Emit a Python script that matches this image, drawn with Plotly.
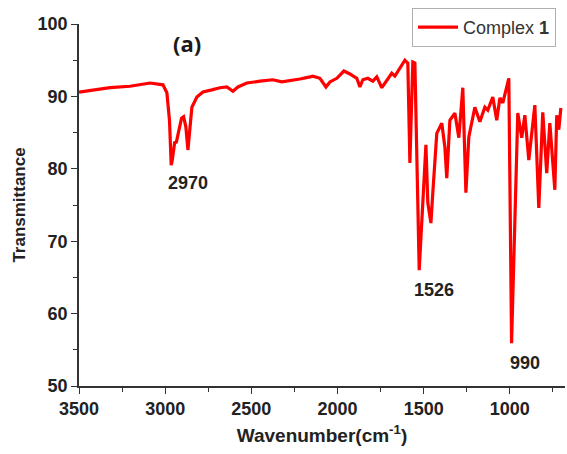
import plotly.graph_objects as go

wavenumber = [3500, 3320, 3204, 3088, 3013, 2990, 2975, 2965, 2960, 2945, 2935, 2905, 2893, 2880, 2868, 2862, 2845,
              2816, 2781, 2729, 2682, 2642, 2607, 2578, 2526, 2450, 2375, 2323, 2294, 2218, 2160, 2143, 2102,
              2067, 2044, 2004, 1963, 1928, 1888, 1870, 1853, 1824, 1795, 1772, 1743, 1714, 1685, 1667, 1638,
              1609, 1592, 1580, 1563, 1551, 1526, 1487, 1476, 1458, 1447, 1424, 1395, 1377, 1366, 1348, 1319,
              1296, 1273, 1255, 1238, 1203, 1174, 1145, 1128, 1099, 1076, 1058, 1041, 1006, 990, 954, 931,
              913, 890, 855, 832, 809, 786, 768, 739, 728, 716, 704]
transmittance = [90.6, 91.2, 91.4, 91.85, 91.6, 90.5, 86.7, 80.5, 81.0, 83.6, 83.7, 87.0, 87.2, 85.8, 82.6, 84.4, 88.5,
                 89.9, 90.6, 90.9, 91.2, 91.3, 90.7, 91.3, 91.85, 92.1, 92.3, 92.0, 92.1, 92.4, 92.7, 92.8, 92.5,
                 91.3, 92.0, 92.5, 93.5, 93.1, 92.5, 91.3, 92.3, 92.5, 92.1, 92.7, 91.2, 92.3, 93.2, 92.8, 93.9,
                 95.0, 94.6, 80.8, 94.75, 94.6, 66.0, 83.3, 75.3, 72.5, 76.7, 84.9, 86.3, 83.0, 78.7, 86.7, 87.7,
                 84.3, 91.2, 76.7, 84.4, 88.5, 86.5, 88.5, 88.1, 89.9, 86.7, 89.8, 89.1, 92.5, 55.9, 87.7, 84.3,
                 87.4, 81.2, 88.8, 74.6, 87.8, 79.4, 86.3, 77.1, 87.4, 85.4, 88.4]

peak_labels = ["2970", "1526", "990"]
peak_label_x = [2868, 1441, 913]
peak_label_y = [78.0, 63.3, 53.2]

x_ticks = [3500, 3000, 2500, 2000, 1500, 1000]
y_ticks = [50, 60, 70, 80, 90, 100]

fig = go.Figure()
fig.add_trace(go.Scatter(x=wavenumber, y=transmittance, mode="lines",
                         line=dict(color="#ff0000", width=3.2), name="Complex <b>1</b>"))

for t, xx, yy in zip(peak_labels, peak_label_x, peak_label_y):
    fig.add_annotation(x=xx, y=yy, text="<b>%s</b>" % t, showarrow=False,
                       xanchor="center", yanchor="middle",
                       font=dict(family="Arial, Liberation Sans", size=18, color="#222222"))

fig.add_annotation(x=(187 - 79) / 486, y=(386 - 43) / 362, xref="paper", yref="paper",
                   xanchor="center", yanchor="middle",
                   text="<b>(a)</b>", showarrow=False,
                   font=dict(family="Open Sans", size=22, color="#1a1a1a"))

axis_font = dict(family="Arial, Liberation Sans", size=18, color="#222222")
fig.update_layout(
    width=567, height=454,
    margin=dict(l=79, r=2, t=24, b=68),
    paper_bgcolor="white", plot_bgcolor="white",
    showlegend=True,
    legend=dict(x=(412 - 79) / 486, y=(386 - 8) / 362, xanchor="left", yanchor="top",
                bordercolor="#b0b0b0", borderwidth=1, bgcolor="white",
                font=dict(family="Arial, Liberation Sans", size=18, color="#333333"),
                itemwidth=40, tracegroupgap=0),
    xaxis=dict(range=[3500, 680], tickvals=x_ticks, ticktext=["<b>%d</b>" % v for v in x_ticks],
               showgrid=False, zeroline=False, showline=True, linecolor="#333333", linewidth=1.5,
               ticks="outside", ticklen=6, tickcolor="#333333", tickfont=axis_font,
               minor=dict(dtick=250, tick0=0, ticks="outside", ticklen=4, tickcolor="#333333"),
               title=dict(text="<b>Wavenumber(cm<sup>-1</sup>)</b>",
                          font=dict(family="Arial, Liberation Sans", size=19, color="#222222"), standoff=10)),
    yaxis=dict(range=[50, 100], tickvals=y_ticks, ticktext=["<b>%d</b>" % v for v in y_ticks],
               showgrid=False, zeroline=False, showline=True, linecolor="#333333", linewidth=1.5,
               ticks="outside", ticklen=6, tickcolor="#333333", tickfont=axis_font,
               minor=dict(dtick=5, tick0=0, ticks="outside", ticklen=4, tickcolor="#333333"),
               title=dict(text="<b>Transmittance</b>",
                          font=dict(family="Arial, Liberation Sans", size=17, color="#222222"), standoff=8)),
)

fig.write_html("out.html")
